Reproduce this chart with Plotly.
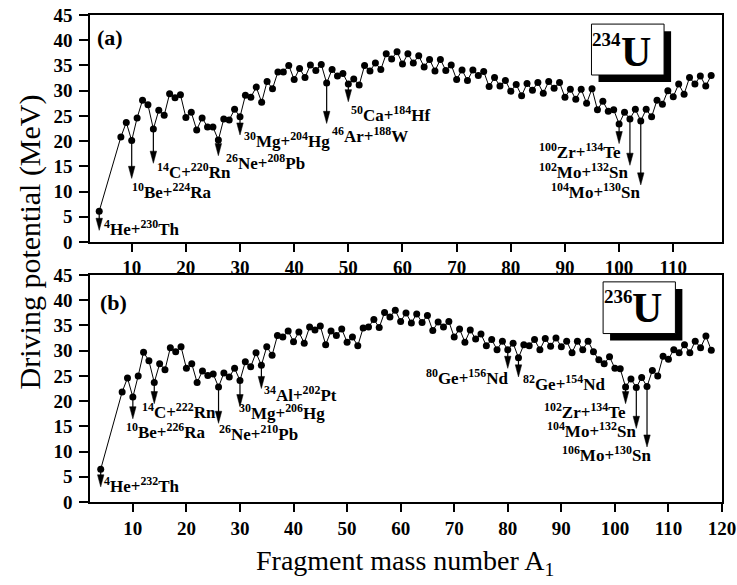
import plotly.graph_objects as go

# ---------------- data ----------------
A_234 = [4] + list(range(8, 118))
V_234 = [6.1,
         20.8, 23.7, 20.1, 24.6, 28.1, 27.2, 22.4, 26.1, 25.1, 29.4,
         28.6, 29.2, 24.7, 25.7, 22.2, 24.6, 22.8, 22.8, 20.2, 24.4,
         24.2, 26.3, 24.8, 29.1, 28.7, 30.7, 27.7, 31.8, 30.4, 33.7,
         33.7, 35.0, 32.2, 34.4, 32.6, 35.1, 34.0, 35.2, 31.5, 34.2,
         32.9, 33.4, 31.3, 32.3, 31.1, 35.0, 33.9, 35.5, 34.2, 37.3,
         36.3, 37.7, 35.3, 37.3, 35.5, 36.9, 34.7, 36.2, 33.9, 36.2,
         34.0, 35.1, 32.2, 34.1, 32.0, 34.1, 33.0, 33.8, 30.8, 32.6,
         30.9, 32.0, 29.9, 31.2, 29.0, 31.4, 30.1, 31.6, 29.5, 31.8,
         30.5, 31.6, 28.7, 30.3, 28.3, 30.3, 27.5, 30.4, 26.2, 27.9,
         25.9, 26.2, 23.4, 25.7, 24.4, 26.3, 24.0, 26.3, 24.8, 28.1,
         27.3, 30.0, 28.8, 31.3, 29.3, 32.6, 31.3, 32.9, 30.9, 33.0]

A_236 = [4] + list(range(8, 119))
V_236 = [6.5,
         21.8, 24.6, 20.8, 25.0, 29.7, 28.0, 23.7, 27.4, 26.2, 30.6,
         29.8, 30.8, 26.5, 27.4, 23.7, 26.0, 25.1, 25.4, 22.8, 25.6,
         24.8, 26.5, 24.1, 27.8, 26.8, 29.6, 27.1, 30.8, 29.1, 33.0,
         32.7, 33.9, 31.8, 33.7, 31.5, 34.7, 34.1, 34.9, 31.2, 33.9,
         33.0, 34.3, 31.7, 32.7, 31.0, 34.5, 34.7, 36.2, 34.6, 37.6,
         36.7, 38.0, 35.8, 37.5, 35.5, 37.3, 35.6, 37.0, 34.0, 35.7,
         34.7, 35.8, 32.7, 34.3, 31.7, 34.1, 32.3, 33.3, 31.0, 32.2,
         30.2, 31.9, 30.2, 31.5, 28.6, 31.2, 31.0, 32.2, 30.2, 32.4,
         30.9, 32.5, 30.8, 31.9, 29.6, 31.9, 30.2, 31.9, 29.8, 28.2,
         27.4, 28.8, 26.5, 26.4, 22.8, 24.4, 22.7, 24.7, 22.9, 26.1,
         25.0, 28.9, 28.3, 30.2, 29.6, 31.2, 29.6, 31.9, 30.6, 32.9, 30.1]

# marked decay channels (fragment mass number) and their labels
ARROW_A_234 = [4, 10, 14, 26, 30, 46, 50, 100, 102, 104]
LABELS_234 = ["<sup>4</sup>He+<sup>230</sup>Th", "<sup>10</sup>Be+<sup>224</sup>Ra",
              "<sup>14</sup>C+<sup>220</sup>Rn", "<sup>26</sup>Ne+<sup>208</sup>Pb",
              "<sup>30</sup>Mg+<sup>204</sup>Hg", "<sup>46</sup>Ar+<sup>188</sup>W",
              "<sup>50</sup>Ca+<sup>184</sup>Hf", "<sup>100</sup>Zr+<sup>134</sup>Te",
              "<sup>102</sup>Mo+<sup>132</sup>Sn", "<sup>104</sup>Mo+<sup>130</sup>Sn"]
ARROW_A_236 = [4, 10, 14, 26, 30, 34, 80, 82, 102, 104, 106]
LABELS_236 = ["<sup>4</sup>He+<sup>232</sup>Th", "<sup>10</sup>Be+<sup>226</sup>Ra",
              "<sup>14</sup>C+<sup>222</sup>Rn", "<sup>26</sup>Ne+<sup>210</sup>Pb",
              "<sup>30</sup>Mg+<sup>206</sup>Hg", "<sup>34</sup>Al+<sup>202</sup>Pt",
              "<sup>80</sup>Ge+<sup>156</sup>Nd", "<sup>82</sup>Ge+<sup>154</sup>Nd",
              "<sup>102</sup>Zr+<sup>134</sup>Te", "<sup>104</sup>Mo+<sup>132</sup>Sn",
              "<sup>106</sup>Mo+<sup>130</sup>Sn"]

# ---------------- layout config (positions / styles) ----------------
FONT = "Liberation Serif"
# arrow tip heights
TIPS_234 = [2.3, 12.6, 15.6, 17.1, 21.2, 23.5, 27.8, 19.5, 15.2, 11.3]
TIPS_236 = [3.0, 16.5, 19.5, 15.6, 18.9, 22.5, 26.5, 24.8, 19.5, 14.6, 10.9]
# label anchor positions (x, y, xanchor)
LPOS_234 = [(4.5, 2.7, "left"), (9.7, 10.2, "left"), (14.3, 14.0, "left"),
            (27.1, 15.8, "left"), (30.3, 20.2, "left"), (46.6, 21.2, "left"),
            (50.1, 25.3, "left"), (100.8, 18.0, "right"), (102.0, 14.0, "right"),
            (104.2, 10.1, "right")]
LPOS_236 = [(4.3, 3.3, "left"), (8.3, 14.0, "left"), (11.4, 18.0, "left"),
            (25.7, 13.6, "left"), (29.4, 17.9, "left"), (34.1, 21.4, "left"),
            (80.4, 24.8, "right"), (82.4, 23.6, "left"), (102.4, 18.0, "right"),
            (104.3, 14.2, "right"), (107.1, 9.5, "right")]

fig = go.Figure()

for A, V, xa, ya in [(A_234, V_234, "x", "y"), (A_236, V_236, "x2", "y2")]:
    fig.add_trace(go.Scatter(x=A, y=V, mode="lines+markers", xaxis=xa, yaxis=ya,
                             line=dict(color="black", width=1),
                             marker=dict(color="black", size=7),
                             showlegend=False, hoverinfo="skip"))

shapes = []
annotations = []

def add_arrows(arrowA, tips, A, V, labels, lpos, xr, yr):
    for a, tip, lab, (lx, ly, anc) in zip(arrowA, tips, labels, lpos):
        val = V[A.index(a)]
        hl, hw = 2.4, 0.6
        shapes.append(dict(type="line", xref=xr, yref=yr, x0=a, x1=a, y0=val, y1=tip + hl * 0.5,
                           line=dict(color="black", width=1.2)))
        shapes.append(dict(type="path", xref=xr, yref=yr,
                           path=f"M {a - hw},{tip + hl} L {a + hw},{tip + hl} L {a},{tip} Z",
                           fillcolor="black", line=dict(color="black", width=0.5)))
        annotations.append(dict(x=lx, y=ly, xref=xr, yref=yr, text=lab, showarrow=False,
                                xanchor=anc, yanchor="middle",
                                font=dict(family=FONT, size=17, color="black", weight="bold")))

add_arrows(ARROW_A_234, TIPS_234, A_234, V_234, LABELS_234, LPOS_234, "x", "y")
add_arrows(ARROW_A_236, TIPS_236, A_236, V_236, LABELS_236, LPOS_236, "x2", "y2")

# nucleus boxes with shadow
for xr, yr, (x0, x1, y0, y1), sup, (sx, sy), (ux, uy) in [
        ("x", "y", (94.9, 108.3, 33.1, 43.2), "234", (97.6, 40.2), (103.1, 37.6)),
        ("x2", "y2", (97.8, 111.3, 33.4, 43.65), "236", (100.6, 40.75), (106.0, 38.4))]:
    shapes.append(dict(type="rect", xref=xr, yref=yr, x0=x0 + 1.3, x1=x1 + 1.3,
                       y0=y0 - 1.4, y1=y1 - 1.4, fillcolor="black", line=dict(width=0)))
    shapes.append(dict(type="rect", xref=xr, yref=yr, x0=x0, x1=x1, y0=y0, y1=y1,
                       fillcolor="white", line=dict(color="black", width=1)))
    annotations.append(dict(x=sx, y=sy, xref=xr, yref=yr, text=sup, showarrow=False,
                            font=dict(family=FONT, size=19, color="black", weight="bold")))
    annotations.append(dict(x=ux, y=uy, xref=xr, yref=yr, text="U", showarrow=False,
                            font=dict(family=FONT, size=42, color="black", weight="bold")))

# panel labels
annotations.append(dict(x=3.2, y=40.6, xref="x", yref="y", text="(a)", showarrow=False,
                        xanchor="left", font=dict(family=FONT, size=22, color="black", weight="bold")))
annotations.append(dict(x=3.5, y=39.5, xref="x2", yref="y2", text="(b)", showarrow=False,
                        xanchor="left", font=dict(family=FONT, size=22, color="black", weight="bold")))

# axis titles
annotations.append(dict(x=-0.095, y=0.535, xref="paper", yref="paper",
                        xanchor="center", yanchor="middle",
                        text="Driving potential (MeV)", textangle=-90, showarrow=False,
                        font=dict(family=FONT, size=30, color="black")))
annotations.append(dict(x=0.498, y=-0.125, xref="paper", yref="paper",
                        xanchor="center", yanchor="middle",
                        text="Fragment mass number A<sub>1</sub>", showarrow=False,
                        font=dict(family=FONT, size=28, color="black")))

tickfont = dict(family=FONT, size=19, color="black", weight="bold")
common_main = dict(showline=True, linecolor="black", linewidth=1.5, mirror=True,
                   ticks="outside", tickwidth=1.5, tickcolor="black", automargin=False,
                   showgrid=False, zeroline=False, tickfont=tickfont)
common_mirror = dict(showline=False, ticks="inside", ticklen=4, tickwidth=1.2,
                     tickcolor="black", showgrid=False, zeroline=False, automargin=False,
                     showticklabels=False)

XR_A = [2.3, 119.0]
XR_B = [2.0, 120.0]
YR = [0, 45]
DOM_A = [0.534, 1.0]
DOM_B = [0.0, 0.466]

fig.update_layout(
    template="none",
    width=737, height=585,
    margin=dict(l=90, r=15, t=15, b=83, autoexpand=False),
    paper_bgcolor="white", plot_bgcolor="white",
    font=dict(family=FONT, color="black"),
    xaxis=dict(domain=[0, 1], anchor="y", range=XR_A, dtick=10, tick0=0,
               ticklen=8, **common_main),
    yaxis=dict(domain=DOM_A, anchor="x", range=YR, dtick=5, tick0=0,
               ticklen=9, ticklabelstandoff=3, **common_main),
    xaxis2=dict(domain=[0, 1], anchor="y2", range=XR_B, dtick=10, tick0=0,
                ticklen=8, **common_main),
    yaxis2=dict(domain=DOM_B, anchor="x2", range=YR, dtick=5, tick0=0,
                ticklen=9, ticklabelstandoff=3, **common_main),
    xaxis3=dict(overlaying="x", anchor="y", side="top", range=XR_A, dtick=10, tick0=0, **common_mirror),
    yaxis3=dict(overlaying="y", anchor="x", side="right", range=YR, dtick=5, tick0=0, **common_mirror),
    xaxis4=dict(overlaying="x2", anchor="y2", side="top", range=XR_B, dtick=10, tick0=0, **common_mirror),
    yaxis4=dict(overlaying="y2", anchor="x2", side="right", range=YR, dtick=5, tick0=0, **common_mirror),
    shapes=shapes,
    annotations=annotations,
)

fig.write_html("out.html", config={"displayModeBar": False},
               post_script="document.body.style.margin='0';")
